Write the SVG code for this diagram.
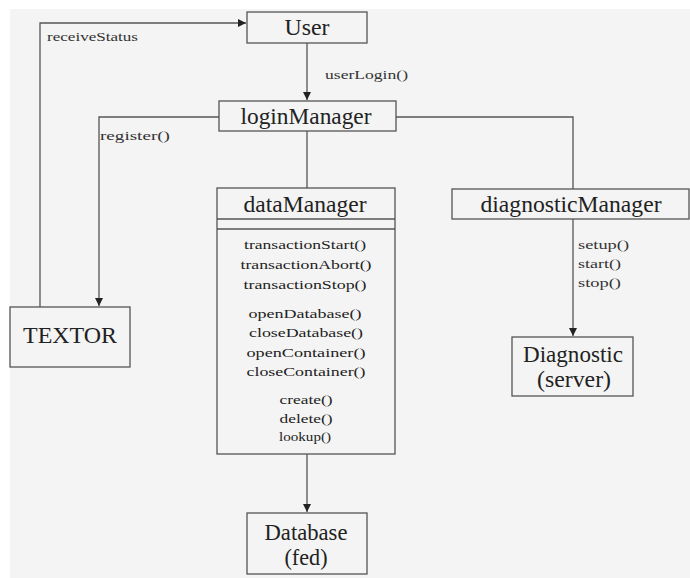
<svg xmlns="http://www.w3.org/2000/svg" width="690" height="578" viewBox="0 0 690 578">
<defs>
<marker id="ah" markerWidth="8" markerHeight="10" refX="8" refY="5" orient="auto" markerUnits="userSpaceOnUse">
<path d="M0,1 L8,5 L0,9 Z" fill="#222"/>
</marker>
<style>
text{font-family:"Times New Roman","Liberation Serif",Tinos,"Nimbus Roman","DejaVu Serif","Noto Serif",serif}
.box{fill:none;stroke:#555;stroke-width:1.3}
.ln{fill:none;stroke:#555;stroke-width:1.3}
.t{fill:#222;text-anchor:middle}
.big{font-size:23px}
.m{font-size:13px}
.lb{fill:#333;font-size:12px}
</style>
</defs>
<rect x="0" y="0" width="690" height="578" fill="#ffffff"/>
<rect x="10" y="9" width="680" height="569" fill="#f4f4f4"/>
<g id="connectors">
<path class="ln" d="M40,307 V23 H246" marker-end="url(#ah)"/>
<path class="ln" d="M307,43 V100" marker-end="url(#ah)"/>
<path class="ln" d="M219,117 H99 V306" marker-end="url(#ah)"/>
<path class="ln" d="M396,117 H573 V189"/>
<path class="ln" d="M307,131 V188"/>
<path class="ln" d="M573,219 V336" marker-end="url(#ah)"/>
<path class="ln" d="M307,454 V512" marker-end="url(#ah)"/>
<text class="lb" x="47" y="41" textLength="91" lengthAdjust="spacingAndGlyphs">receiveStatus</text>
<text class="lb" x="325" y="79" textLength="83" lengthAdjust="spacingAndGlyphs">userLogin()</text>
<text class="lb" x="100" y="140" textLength="70" lengthAdjust="spacingAndGlyphs">register()</text>
<text class="lb" x="578" y="249" textLength="51" lengthAdjust="spacingAndGlyphs">setup()</text>
<text class="lb" x="578" y="268" textLength="43" lengthAdjust="spacingAndGlyphs">start()</text>
<text class="lb" x="578" y="287" textLength="43" lengthAdjust="spacingAndGlyphs">stop()</text>
</g>
<g id="User">
<rect class="box" x="247" y="12" width="120" height="31"/>
<text class="t big" x="307" y="35" textLength="45" lengthAdjust="spacingAndGlyphs">User</text>
</g>
<g id="loginManager">
<rect class="box" x="219" y="101" width="177" height="30"/>
<text class="t big" x="306" y="124" textLength="131" lengthAdjust="spacingAndGlyphs">loginManager</text>
</g>
<g id="TEXTOR">
<rect class="box" x="10" y="307" width="120" height="60"/>
<text class="t" style="font-size:24px" x="70" y="343" textLength="94" lengthAdjust="spacingAndGlyphs">TEXTOR</text>
</g>
<g id="dataManager">
<rect class="box" x="217" y="188" width="178" height="266"/>
<line class="ln" x1="217" y1="219" x2="395" y2="219"/>
<line class="ln" x1="217" y1="229" x2="395" y2="229"/>
<text class="t big" x="305" y="212" textLength="123" lengthAdjust="spacingAndGlyphs">dataManager</text>
<text class="t m" x="305" y="249" textLength="122" lengthAdjust="spacingAndGlyphs">transactionStart()</text>
<text class="t m" x="306" y="269" textLength="131" lengthAdjust="spacingAndGlyphs">transactionAbort()</text>
<text class="t m" x="305" y="289" textLength="123" lengthAdjust="spacingAndGlyphs">transactionStop()</text>
<text class="t m" x="305" y="318" textLength="113" lengthAdjust="spacingAndGlyphs">openDatabase()</text>
<text class="t m" x="306" y="337" textLength="114" lengthAdjust="spacingAndGlyphs">closeDatabase()</text>
<text class="t m" x="306" y="357" textLength="119" lengthAdjust="spacingAndGlyphs">openContainer()</text>
<text class="t m" x="306" y="376" textLength="119" lengthAdjust="spacingAndGlyphs">closeContainer()</text>
<text class="t m" x="306" y="404" textLength="53" lengthAdjust="spacingAndGlyphs">create()</text>
<text class="t m" x="306" y="423" textLength="53" lengthAdjust="spacingAndGlyphs">delete()</text>
<text class="t m" x="305" y="441" textLength="52" lengthAdjust="spacingAndGlyphs">lookup()</text>
</g>
<g id="diagnosticManager">
<rect class="box" x="452" y="189" width="237" height="30"/>
<text class="t big" x="571" y="212" textLength="181" lengthAdjust="spacingAndGlyphs">diagnosticManager</text>
</g>
<g id="Diagnostic">
<rect class="box" x="512" y="337" width="121" height="59"/>
<text class="t big" x="573" y="362" textLength="100" lengthAdjust="spacingAndGlyphs">Diagnostic</text>
<text class="t big" x="574" y="387" textLength="74" lengthAdjust="spacingAndGlyphs">(server)</text>
</g>
<g id="Database">
<rect class="box" x="247" y="513" width="120" height="61"/>
<text class="t big" x="306" y="540" textLength="83" lengthAdjust="spacingAndGlyphs">Database</text>
<text class="t big" x="306" y="565" textLength="43" lengthAdjust="spacingAndGlyphs">(fed)</text>
</g>
</svg>
